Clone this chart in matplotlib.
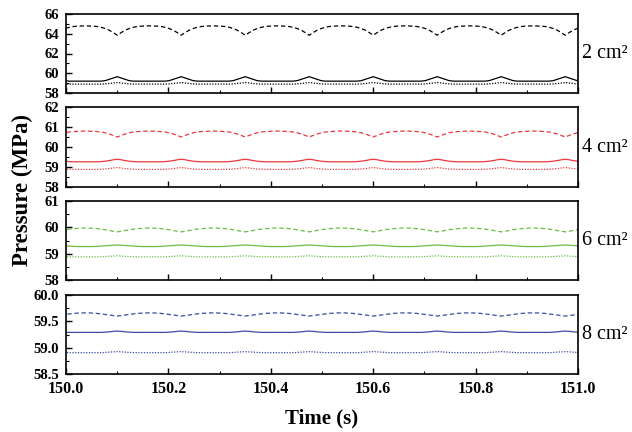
import numpy as np
import matplotlib
matplotlib.use('Agg')
from matplotlib import pyplot as plt
from matplotlib.ticker import MultipleLocator

plt.rcParams['font.family'] = ['Liberation Serif', 'DejaVu Serif']

# one pulsation cycle (8 Hz), 16 samples, phase 0 = dashed trough
period = 0.125
t_first = 149.975
n_cycles = 10

dash_2 = [63.85, 64.12, 64.36, 64.53, 64.65, 64.73, 64.77, 64.79, 64.80, 64.79, 64.77, 64.73, 64.65, 64.53, 64.36, 64.12]
solid_2 = [59.65, 59.52, 59.38, 59.25, 59.20, 59.20, 59.20, 59.20, 59.20, 59.20, 59.20, 59.20, 59.20, 59.25, 59.38, 59.52]
dot_2 = [59.06, 59.01, 58.96, 58.92, 58.90, 58.90, 58.90, 58.90, 58.90, 58.90, 58.90, 58.90, 58.90, 58.92, 58.96, 59.01]

dash_4 = [60.50, 60.58, 60.65, 60.71, 60.75, 60.77, 60.78, 60.79, 60.80, 60.79, 60.78, 60.77, 60.75, 60.71, 60.65, 60.58]
solid_4 = [59.39, 59.36, 59.32, 59.29, 59.27, 59.26, 59.26, 59.26, 59.26, 59.26, 59.26, 59.26, 59.27, 59.29, 59.32, 59.36]
dot_4 = [58.97, 58.95, 58.92, 58.90, 58.89, 58.88, 58.88, 58.88, 58.88, 58.88, 58.88, 58.88, 58.89, 58.90, 58.92, 58.95]

dash_6 = [59.83, 59.85, 59.88, 59.91, 59.93, 59.95, 59.96, 59.97, 59.97, 59.97, 59.96, 59.95, 59.93, 59.91, 59.88, 59.85]
solid_6 = [59.33, 59.32, 59.31, 59.30, 59.29, 59.28, 59.27, 59.27, 59.27, 59.27, 59.27, 59.28, 59.29, 59.30, 59.31, 59.32]
dot_6 = [58.92, 58.91, 58.90, 58.89, 58.88, 58.88, 58.88, 58.88, 58.88, 58.88, 58.88, 58.88, 58.88, 58.89, 58.90, 58.91]

dash_8 = [59.60, 59.61, 59.62, 59.63, 59.64, 59.65, 59.655, 59.66, 59.66, 59.66, 59.655, 59.65, 59.64, 59.63, 59.62, 59.61]
solid_8 = [59.315, 59.31, 59.30, 59.295, 59.29, 59.29, 59.29, 59.29, 59.29, 59.29, 59.29, 59.29, 59.29, 59.295, 59.30, 59.31]
dot_8 = [58.925, 58.92, 58.915, 58.91, 58.905, 58.905, 58.905, 58.905, 58.905, 58.905, 58.905, 58.905, 58.905, 58.91, 58.915, 58.92]

xticks = [150.0, 150.2, 150.4, 150.6, 150.8, 151.0]

panels = [
    ('2 cm²', 'black', (dash_2, solid_2, dot_2), (58, 66), [58, 60, 62, 64, 66], 1),
    ('4 cm²', '#e8383d', (dash_4, solid_4, dot_4), (58, 62), [58, 59, 60, 61, 62], 0.5),
    ('6 cm²', '#6cbd45', (dash_6, solid_6, dot_6), (58, 61), [58, 59, 60, 61], 0.5),
    ('8 cm²', '#3d4ca3', (dash_8, solid_8, dot_8), (58.5, 60.0), [58.5, 59.0, 59.5, 60.0], 0.25),
]

n_pts = len(dash_2)
t = t_first + period * np.arange(n_cycles * n_pts + 1) / n_pts

fig = plt.figure(figsize=(6.32, 4.32), dpi=100)
tops = [14, 107, 201, 295]
bots = [93, 187, 280, 374]
left, right = 66 / 632, 578 / 632

for i, (lab, col, series, ylim, yt, minor) in enumerate(panels):
    y0 = 1 - bots[i] / 432
    h = (bots[i] - tops[i]) / 432
    ax = fig.add_axes([left, y0, right - left, h])
    dash, solid, dot = [np.append(np.tile(s, n_cycles), s[0]) for s in series]
    ax.plot(t, dash, color=col, lw=0.9, ls=(0, (3.5, 2.2)))
    ax.plot(t, solid, color=col, lw=0.9)
    ax.plot(t, dot, color=col, lw=0.9, ls=(0, (1, 1.2)))
    ax.set_xlim(150.0, 151.0)
    ax.set_ylim(*ylim)
    ax.set_xticks(xticks)
    ax.xaxis.set_minor_locator(MultipleLocator(0.1))
    ax.set_yticks(yt)
    ax.yaxis.set_minor_locator(MultipleLocator(minor))
    ax.tick_params(which='both', direction='in', top=False, right=False)
    ax.tick_params(which='major', length=4, width=1)
    ax.tick_params(which='minor', length=2.5, width=0.8)
    ax.tick_params(axis='y', pad=5)
    ax.tick_params(axis='x', pad=5)
    for sp in ax.spines.values():
        sp.set_linewidth(1.2)
    ytl = ['%.1f' % v for v in yt] if i == 3 else ['%d' % v for v in yt]
    ax.set_yticklabels(ytl, fontweight='bold', fontsize=10.5)
    if i < 3:
        ax.tick_params(axis='x', labelbottom=False)
    else:
        ax.set_xticklabels(['%.1f' % v for v in xticks], fontweight='bold', fontsize=11.5)
        ax.set_xlabel('Time (s)', fontweight='bold', fontsize=15, labelpad=8)
    ax.text(1.008, 0.5, lab, transform=ax.transAxes, ha='left', va='center', fontsize=14.5)

fig.text(22 / 632, 1 - 190 / 432, 'Pressure (MPa)', rotation=90, ha='center', va='center',
         fontweight='bold', fontsize=16.5)

fig.savefig('out.png', dpi=100)
